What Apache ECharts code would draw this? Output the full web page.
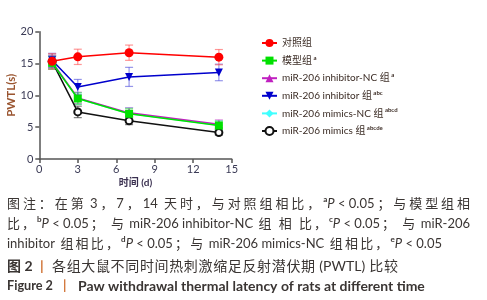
<!DOCTYPE html>
<html><head><meta charset="utf-8">
<script src="https://cdn.jsdelivr.net/npm/echarts@6/dist/echarts.min.js"></script>
<style>html,body{margin:0;padding:0;background:#fff}#c{width:487px;height:300px}</style>
</head><body><div id="c"></div>
<script>
const days = [1, 3, 7, 14];
const seriesNames = ['对照组', '模型组', 'miR-206 inhibitor-NC 组', 'miR-206 inhibitor 组', 'miR-206 mimics-NC 组', 'miR-206 mimics 组'];
const seriesSup = ['', 'a', 'a', 'abc', 'abcd', 'abcde'];
const ctrlVals = [15.35, 16.05, 16.7, 16.0];
const modelVals = [15.1, 9.5, 7.1, 5.25];
const inhNcVals = [15.2, 9.6, 7.25, 5.45];
const inhVals = [15.5, 11.3, 12.9, 13.6];
const mimNcVals = [15.2, 9.5, 7.15, 5.3];
const mimVals = [15.3, 7.4, 6.0, 4.15];
const ctrlErr = [1.2, 1.2, 1.2, 1.2];
const modelErr = [1.0, 0.9, 0.8, 0.7];
const inhNcErr = [1.1, 0.9, 0.8, 0.7];
const inhErr = [1.1, 1.2, 1.5, 1.3];
const mimNcErr = [1.0, 0.9, 0.9, 0.7];
const mimErr = [1.0, 0.9, 0.6, 0.4];
const xTicks = [0, 3, 6, 9, 12, 15];
const yTicks = [0, 5, 10, 15, 20];

const colors = ['#ff0000', '#00e000', '#c020c0', '#0000cc', '#40ffff', '#111111'];
const errColors = ['rgba(255,80,80,0.6)', 'rgba(60,220,60,0.6)', 'rgba(200,80,200,0.6)', 'rgba(80,80,220,0.6)', 'rgba(80,240,240,0.7)', 'rgba(40,40,40,0.6)'];
const symbols = ['circle', 'rect', 'triangle', 'path://M0,0 L10,0 L5,10 Z', 'diamond', 'emptyCircle'];
const symSizes = [9, 8, 8, 8, 8, 7];
const allVals = [ctrlVals, modelVals, inhNcVals, inhVals, mimNcVals, mimVals];
const allErr = [ctrlErr, modelErr, inhNcErr, inhErr, mimNcErr, mimErr];
const drawOrder = [5, 4, 2, 1, 3, 0];

const chart = echarts.init(document.getElementById('c'));
const series = [];
drawOrder.forEach(function (i) {
  series.push({
    type: 'custom', name: seriesNames[i] + '_err', z: 2, silent: true,
    data: days.map(function (d, k) { return [d, allVals[i][k] - allErr[i][k], allVals[i][k] + allErr[i][k]]; }),
    renderItem: function (params, api) {
      const lo = api.coord([api.value(0), api.value(1)]);
      const hi = api.coord([api.value(0), api.value(2)]);
      const w = 4;
      const st = { stroke: errColors[i], lineWidth: 1.2 };
      return { type: 'group', children: [
        { type: 'line', shape: { x1: lo[0], y1: lo[1], x2: hi[0], y2: hi[1] }, style: st },
        { type: 'line', shape: { x1: lo[0] - w, y1: lo[1], x2: lo[0] + w, y2: lo[1] }, style: st },
        { type: 'line', shape: { x1: hi[0] - w, y1: hi[1], x2: hi[0] + w, y2: hi[1] }, style: st }
      ]};
    }
  });
});
drawOrder.forEach(function (i) {
  series.push({
    type: 'line', name: seriesNames[i], z: 3,
    data: days.map(function (d, k) { return [d, allVals[i][k]]; }),
    symbol: symbols[i], symbolSize: symSizes[i], showAllSymbol: true,
    lineStyle: { color: colors[i], width: 1.5 },
    itemStyle: i === 5 ? { color: '#111', borderColor: '#111', borderWidth: 1.5 } : { color: colors[i] },
    emphasis: { disabled: true }
  });
});

const cFont = "Lato, 'Noto Sans CJK SC', sans-serif";
const canvas = document.createElement('canvas');
const ctx = canvas.getContext('2d');
function fontStr(size, weight, style) { return (style || 'normal') + ' ' + (weight || 'normal') + ' ' + size + 'px ' + cFont; }
function meas(t, f) { ctx.font = f; return ctx.measureText(t).width; }
const cjkRe = /^[\u3000-\u9fff\uff00-\uffef]$/;

function buildLine(segs, x0, y, target, size, col) {
  const toks = [];
  segs.forEach(function (sg) {
    const kind = sg[0], text = sg[1];
    let f;
    if (kind === 's') f = fontStr(size * 0.62, 'bold');
    else if (kind === 'i') f = fontStr(size, 'normal', 'italic');
    else if (kind === 'b' || kind === 'o') f = fontStr(size, 'bold');
    else f = fontStr(size);
    if (kind === 'n' || kind === 'b') {
      const re = /[\u3000-\u9fff\uff00-\uffef]|[^\s\u3000-\u9fff\uff00-\uffef]+|\s+/g;
      let m;
      while ((m = re.exec(text)) !== null) toks.push({ t: m[0], f: f, kind: kind, sp: /^\s+$/.test(m[0]), cjk: cjkRe.test(m[0]) });
    } else toks.push({ t: text, f: f, kind: kind, sp: false, cjk: false });
  });
  toks.forEach(function (tk) { tk.w = meas(tk.t, tk.f); });
  const nat = toks.reduce(function (a, tk) { return a + tk.w; }, 0);
  function expand(k) { return toks[k - 1].cjk || toks[k].cjk; }
  let gaps = 0;
  for (let k = 1; k < toks.length; k++) if (expand(k)) gaps++;
  const extra = target ? Math.max(0, (target - nat) / Math.max(1, gaps)) : 0;
  const els = [];
  let x = x0;
  toks.forEach(function (tk, k) {
    if (k > 0 && expand(k)) x += extra;
    if (!tk.sp) {
      els.push({ type: 'text', x: x, y: tk.kind === 's' ? y - size * 0.35 : y, silent: true,
        style: { text: tk.t, font: tk.f, fill: tk.kind === 'o' ? '#d07030' : col, verticalAlign: 'middle', align: 'left' } });
    }
    x += tk.w;
  });
  return els;
}
function fitText(text, x, y, target, baseSize, weight, col) {
  const w = meas(text, fontStr(baseSize, weight));
  const size = baseSize * target / w;
  return [{ type: 'text', x: x, y: y, silent: true, style: { text: text, font: fontStr(size, weight), fill: col, verticalAlign: 'middle', align: 'left' } }];
}

const capCol = '#3a3533';
let graphics = [];
graphics = graphics.concat(buildLine([['n', '图注：在第 3，7，14 天时，与对照组相比，'], ['s', 'a'], ['i', 'P'], ['n', ' < 0.05；与模型组相']], 7, 204, 463, 13, capCol));
graphics = graphics.concat(buildLine([['n', '比，'], ['s', 'b'], ['i', 'P'], ['n', ' < 0.05； 与 miR-206 inhibitor-NC 组 相 比，'], ['s', 'c'], ['i', 'P'], ['n', ' < 0.05； 与 miR-206']], 7, 224, 463, 13, capCol));
graphics = graphics.concat(buildLine([['n', 'inhibitor 组相比，'], ['s', 'd'], ['i', 'P'], ['n', ' < 0.05；与 miR-206 mimics-NC 组相比，'], ['s', 'e'], ['i', 'P'], ['n', ' < 0.05']], 7, 244, 435, 13, capCol));
graphics = graphics.concat(buildLine([['b', '图 2']], 7, 266, null, 14, capCol));
graphics = graphics.concat(buildLine([['o', '|']], 40, 266, null, 14, capCol));
graphics = graphics.concat(buildLine([['n', '各组大鼠不同时间热刺激缩足反射潜伏期 (PWTL) 比较']], 52, 266, 346, 14, capCol));
graphics = graphics.concat(fitText('Figure 2', 7, 286, 46, 13, 'bold', capCol));
graphics = graphics.concat(buildLine([['o', '|']], 63, 286, null, 13, capCol));
graphics = graphics.concat(fitText('Paw withdrawal thermal latency of rats at different time', 78, 286, 347, 13, 'bold', capCol));

chart.setOption({
  animation: false,
  backgroundColor: '#fff',
  grid: { left: 39.3, right: 255.3, top: 31.7, bottom: 141, containLabel: false },
  xAxis: {
    type: 'value', min: xTicks[0], max: xTicks[xTicks.length - 1], interval: 3,
    name: '时间 (d)', nameLocation: 'middle', nameGap: 19,
    nameTextStyle: { fontFamily: cFont, fontSize: 10, fontWeight: 'bold', color: '#3a3050' },
    axisLine: { lineStyle: { color: '#555', width: 1.5 } },
    axisTick: { show: true, length: 4, lineStyle: { color: '#555', width: 1.5 } },
    axisLabel: { margin: 5, fontFamily: cFont, fontSize: 11, color: '#3a3a55' },
    splitLine: { show: false }
  },
  yAxis: {
    type: 'value', min: yTicks[0], max: yTicks[yTicks.length - 1], interval: 5,
    name: 'PWTL(s)', nameLocation: 'middle', nameGap: 21, nameRotate: 90,
    nameTextStyle: { fontFamily: cFont, fontSize: 11.5, fontWeight: 'bold', color: '#9a5530', padding: [0, 0, 0, 0] },
    axisLine: { show: true, lineStyle: { color: '#555', width: 1.5 } },
    axisTick: { show: true, length: 4, lineStyle: { color: '#555', width: 1.5 } },
    axisLabel: { margin: 6, fontFamily: cFont, fontSize: 11, color: '#3a3a55' },
    splitLine: { show: false }
  },
  legend: {
    orient: 'vertical', left: 256, top: 33, itemWidth: 15, itemHeight: 10, itemGap: 6.6,
    data: seriesNames, selectedMode: false,
    formatter: function (name) {
      const i = seriesNames.indexOf(name);
      return '{n|' + name + '}' + (seriesSup[i] ? '{s| ' + seriesSup[i] + '}' : '');
    },
    textStyle: {
      fontFamily: cFont, fontSize: 10, color: '#3b2c25',
      rich: { n: { fontFamily: cFont, fontSize: 10, color: '#3b2c25' },
              s: { fontFamily: cFont, fontSize: 6, fontWeight: 'bold', color: '#3b2c25', verticalAlign: 'top', padding: [0, 0, 6, 0] } }
    }
  },
  series: series,
  graphic: graphics
});
</script></body></html>
